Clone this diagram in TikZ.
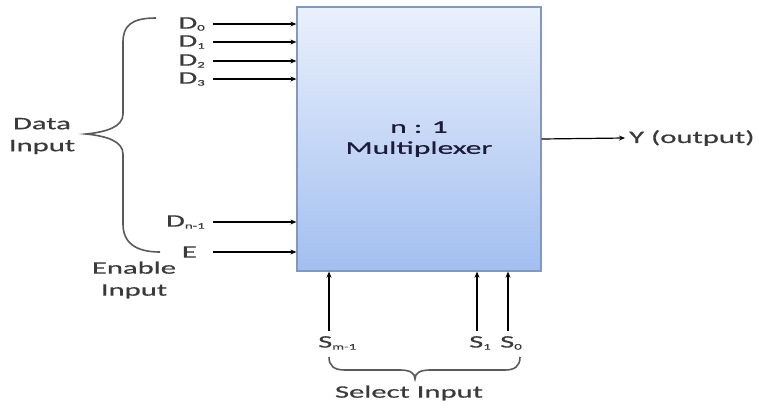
\documentclass[tikz,border=0pt]{standalone}
\usepackage{fontspec}
\setmainfont{Carlito}[FakeStretch=1.75,FakeBold=0.6]
\usetikzlibrary{arrows.meta,calc}
\definecolor{txt}{HTML}{3A3A3A}
\definecolor{boxtop}{HTML}{EAF0FC}
\definecolor{boxbot}{HTML}{A2BFF0}
\definecolor{boxline}{HTML}{8299BC}
\definecolor{bracec}{HTML}{5A5A5A}
\newcommand{\mysub}[1]{\raisebox{-2pt}{\fontsize{8.5}{9}\selectfont #1}}
\tikzset{
  lbl/.style={text=txt, font=\fontsize{17.5}{21}\selectfont, inner sep=0pt},
  inlbl/.style={lbl, anchor=east, inner xsep=8pt},
  arr/.style={line width=1.2pt, -{Stealth[length=6pt,width=5pt]}},
  brace/.style={line width=1.6pt, draw=bracec},
  muxbox/.style={draw=boxline, line width=1.3pt, top color=boxtop, bottom color=boxbot,
    minimum width=244pt, minimum height=264pt, align=center, text=txt!80!blue!60!black,
    font=\fontsize{18}{22}\selectfont}
}
\begin{document}
\begin{tikzpicture}[x=1pt,y=-1pt]
\useasboundingbox (0,0) rectangle (759,407);
\node[muxbox] (mux) at (419,139) {n : 1\\[-1pt]Multiplexer};
% data inputs
\node[inlbl] (d0) at (213,24) {D\mysub{0}};
\node[inlbl] (d1) at (213,42) {D\mysub{1}};
\node[inlbl] (d2) at (213,61) {D\mysub{2}};
\node[inlbl] (d3) at (213,79) {D\mysub{3}};
\node[inlbl] (dn) at (213,222) {D\mysub{n-1}};
\node[inlbl, inner xsep=16pt] (en) at (213,252) {E};
\foreach \n in {d0,d1,d2,d3,dn,en}
  \draw[arr] (\n.east) -- (\n.east -| mux.west);
% output
\node[lbl, anchor=west, inner xsep=4pt] (y) at (625,138) {Y (output)};
\draw[arr] (mux.east) -- (y.west);
% select inputs
\node[lbl, anchor=north west, inner ysep=5pt] (sm) at (318,331) {S\mysub{m-1}};
\node[lbl, anchor=north west, inner ysep=5pt] (s1) at (469,331) {S\mysub{1}};
\node[lbl, anchor=north west, inner ysep=5pt] (s0) at (500,331) {S\mysub{0}};
\draw[arr] ([xshift=11pt]sm.north west) -- ([xshift=11pt]sm.north west |- mux.south);
\draw[arr] ([xshift=8pt]s1.north west) -- ([xshift=8pt]s1.north west |- mux.south);
\draw[arr] ([xshift=8pt]s0.north west) -- ([xshift=8pt]s0.north west |- mux.south);
% labels
\node[lbl, align=center] (data) at (42,136) {Data\\[1pt]Input};
\node[lbl, align=center] (enab) at (134,280) {Enable\\[1pt]Input};
\node[lbl] (sel) at (409,393) {Select Input};
% braces
\draw[brace] (156,18) .. controls (131,18) and (123,26) .. (123,42) -- (123,114)
  .. controls (123,127) and (106,132) .. (86,134)
  .. controls (106,136) and (123,141) .. (123,154) -- (123,224)
  .. controls (123,243) and (136,252) .. (160,252);
\draw[brace] (329,357) .. controls (329,366) and (334,370) .. (345,370) -- (400,370)
  .. controls (410,370) and (415,373) .. (415,379)
  .. controls (415,373) and (420,370) .. (430,370) -- (505,370)
  .. controls (515,370) and (520,366) .. (520,357);
\end{tikzpicture}
\end{document}
